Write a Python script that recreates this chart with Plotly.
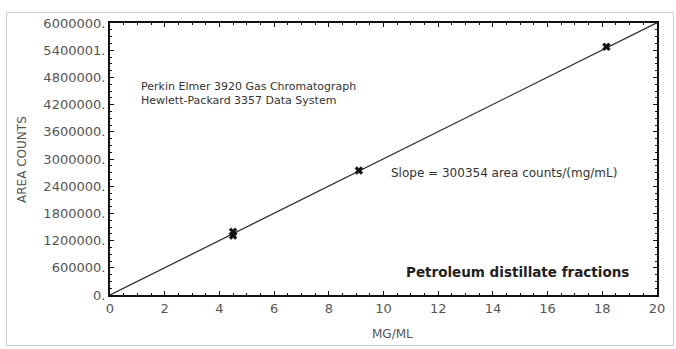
import plotly.graph_objects as go

# Calibration data: concentration (mg/mL) vs. integrated peak area
conc_mg_ml = [4.5, 4.5, 9.1, 18.15]
area_counts = [1310000, 1395000, 2745000, 5475000]

slope = 300354  # area counts per (mg/mL)
fit_x = [0, 20]
fit_y = [slope * x for x in fit_x]

x_ticks = [0, 2, 4, 6, 8, 10, 12, 14, 16, 18, 20]
y_ticks = [0, 600000, 1200000, 1800000, 2400000, 3000000,
           3600000, 4200000, 4800000, 5400000, 6000000]
y_tick_text = ["0.", "600000.", "1200000.", "1800000.", "2400000.", "3000000.",
               "3600000.", "4200000.", "4800000.", "5400001.", "6000000."]

FONT = "DejaVu Sans"
GRAY = "#555555"

fig = go.Figure()

fig.add_trace(go.Scatter(
    x=fit_x, y=fit_y, mode="lines",
    line=dict(color="#333333", width=1.3),
    hoverinfo="skip", showlegend=False,
))
fig.add_trace(go.Scatter(
    x=conc_mg_ml, y=area_counts, mode="markers",
    marker=dict(symbol="x", size=7, color="#111111",
                line=dict(width=0.5, color="#111111")),
    showlegend=False,
))

axis_common = dict(
    showgrid=False, zeroline=False,
    showline=True, linecolor="#111111", linewidth=2, mirror="ticks",
    ticks="inside", ticklen=4, tickwidth=1, tickcolor="#111111",
    tickfont=dict(family=FONT, size=13, color=GRAY),
)

fig.update_xaxes(
    range=[0, 20], tickvals=x_ticks, ticktext=[str(v) for v in x_ticks],
    minor=dict(ticks="inside", ticklen=2, dtick=0.5, tickcolor="#111111"),
    **axis_common,
)
fig.update_yaxes(
    range=[0, 6000000], tickvals=y_ticks, ticktext=y_tick_text,
    minor=dict(ticks="inside", ticklen=2, dtick=150000, tickcolor="#111111"),
    **axis_common,
)

annotations = [
    dict(x=0.517, y=-0.143, xref="paper", yref="paper", text="MG/ML",
         showarrow=False, xanchor="center", yanchor="middle",
         font=dict(family=FONT, size=12, color=GRAY)),
    dict(x=-0.161, y=0.5, xref="paper", yref="paper", text="AREA COUNTS",
         showarrow=False, textangle=-90, xanchor="center", yanchor="middle",
         font=dict(family=FONT, size=12, color=GRAY)),
    dict(x=1.06, y=4590000, text="Perkin Elmer 3920 Gas Chromatograph",
         showarrow=False, xanchor="left", yanchor="middle",
         font=dict(family=FONT, size=11, color="#333333")),
    dict(x=1.06, y=4300000, text="Hewlett-Packard 3357 Data System",
         showarrow=False, xanchor="left", yanchor="middle",
         font=dict(family=FONT, size=11, color="#333333")),
    dict(x=10.2, y=2700000, text="Slope = 300354 area counts/(mg/mL)",
         showarrow=False, xanchor="left", yanchor="middle",
         font=dict(family=FONT, size=12, color="#333333")),
    dict(x=10.75, y=514000, text="<b>Petroleum distillate fractions</b>",
         showarrow=False, xanchor="left", yanchor="middle",
         font=dict(family=FONT, size=13.5, color="#222222")),
]

fig.update_layout(
    width=676, height=349,
    margin=dict(l=110, r=19, t=23, b=54),
    paper_bgcolor="white", plot_bgcolor="white",
    annotations=annotations,
    shapes=[dict(type="rect", xref="paper", yref="paper",
                 x0=-0.1892, x1=1.0302, y0=-0.1857, y1=1.0386,
                 line=dict(color="#cccccc", width=1), layer="below")],
)

fig.write_html("out.html")
